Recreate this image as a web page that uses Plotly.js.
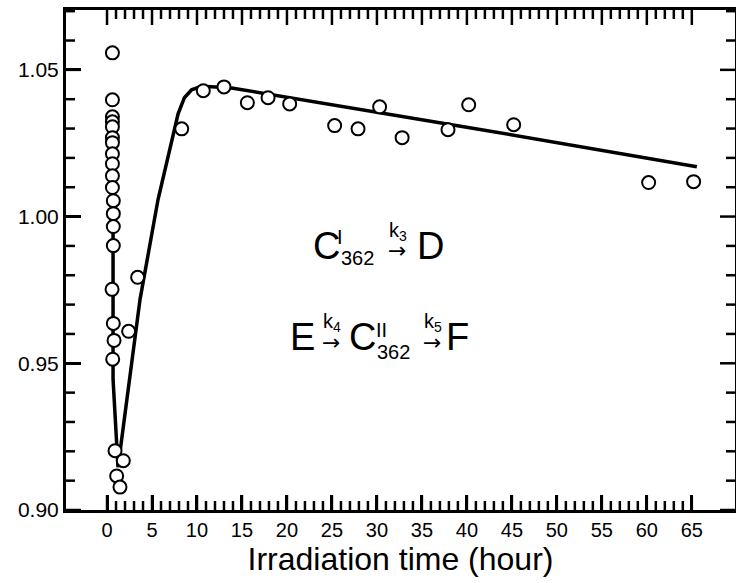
<!DOCTYPE html>
<html>
<head>
<meta charset="utf-8">
<script src="https://cdn.plot.ly/plotly-3.0.1.min.js"></script>
<style>html,body{margin:0;padding:0;background:#fff;}#chart{width:736px;height:583px;}</style>
</head>
<body>
<div id="chart"></div>
<script>
// Measured points
const time_h = [0.6,0.6,0.6,0.6,0.6,0.6,0.6,0.6,0.6,0.6,0.6,0.7,0.7,0.7,0.7,0.56,0.7,0.78,0.63,
  0.89,1.81,1.07,1.44,2.4,3.4,8.3,10.7,13.0,15.6,17.9,20.3,25.3,27.9,30.3,32.8,37.9,40.2,45.2,60.2,65.2];
const ratio = [1.0558,1.0398,1.0340,1.0323,1.0306,1.0269,1.0252,1.0214,1.0180,1.0139,1.0099,1.0054,1.0010,0.9966,0.9901,0.9752,0.9636,0.9578,0.9514,
  0.9202,0.9168,0.9116,0.9078,0.9609,0.9793,1.0299,1.0429,1.0442,1.0388,1.0405,1.0384,1.0310,1.0299,1.0374,1.0269,1.0296,1.0381,1.0313,1.0116,1.0119];
// Fitted curve
const fit_t = [0.67,0.67,1.22,2.22,3.67,5.67,7.2,7.9,8.6,9.4,10.5,13.67,40.3,65.56];
const fit_y = [1.000,0.9446,0.9146,0.9378,0.9718,1.0058,1.0260,1.0350,1.0405,1.0432,1.0444,1.0439,1.0303,1.0170];
// Ticks
const xMajor = [0,5,10,15,20,25,30,35,40,45,50,55,60,65];
const xMinor = [1,2,3,4,6,7,8,9,11,12,13,14,16,17,18,19,21,22,23,24,26,27,28,29,31,32,33,34,36,37,38,39,
  41,42,43,44,46,47,48,49,51,52,53,54,56,57,58,59,61,62,63,64];
const yMajor = [0.90,0.95,1.00,1.05];
const yLabels = ["0.90","0.95","1.00","1.05"];
const yMinor = [0.91,0.92,0.93,0.94,0.96,0.97,0.98,0.99,1.01,1.02,1.03,1.04,1.06,1.07];

var FONT = "Liberation Sans, Arial, Helvetica, sans-serif";
var XR = [-4.56, 69.8], YR = [0.9, 1.0704];
var L = 66, R = 735, T = 10, B = 510;
var PW = R - L, PH = B - T;
var KX = (XR[1] - XR[0]) / PW, KY = (YR[1] - YR[0]) / PH;
function px(x){ return (x - L) / PW; }
function py(y){ return (B - y) / PH; }
function ann(text, x, y, size, fam){
  return {text: text, xref: 'paper', yref: 'paper', x: px(x), y: py(y), xanchor: 'center', yanchor: 'middle',
          showarrow: false, font: {family: fam || FONT, size: size, color: '#000'}};
}
var ARW = "DejaVu Sans, sans-serif";

// inside tick marks on all four sides, drawn as line segments on the axes' scales
var tx = [], ty = [];
function xTicks(vals, len){
  for (var i = 0; i < vals.length; i++) {
    var v = vals[i];
    tx.push(v, v, null); ty.push(YR[0], YR[0] + len * KY, null);
    tx.push(v, v, null); ty.push(YR[1], YR[1] - len * KY, null);
  }
}
function yTicks(vals, len){
  for (var i = 0; i < vals.length; i++) {
    var v = vals[i];
    tx.push(XR[0], XR[0] + len * KX, null); ty.push(v, v, null);
    tx.push(XR[1], XR[1] - len * KX, null); ty.push(v, v, null);
  }
}
xTicks(xMajor, 15); xTicks(xMinor, 9);
yTicks(yMajor, 15); yTicks(yMinor, 9);

var traces = [
  {x: tx, y: ty, type: 'scatter', mode: 'lines', line: {color: '#000', width: 2.5}, connectgaps: false, cliponaxis: false, hoverinfo: 'skip', showlegend: false},
  {x: fit_t, y: fit_y, type: 'scatter', mode: 'lines', line: {color: '#000', width: 3.5}, hoverinfo: 'skip', showlegend: false},
  {x: time_h, y: ratio, type: 'scatter', mode: 'markers', marker: {symbol: 'circle', size: 13, color: '#fff', line: {color: '#000', width: 2}}, showlegend: false}
];

var layout = {
  width: 736, height: 583,
  margin: {l: L, r: 736 - R, t: T, b: 583 - B},
  paper_bgcolor: '#fff', plot_bgcolor: '#fff',
  showlegend: false,
  font: {family: FONT, color: '#000'},
  xaxis: {
    range: XR, showgrid: false, zeroline: false,
    showline: true, linecolor: '#000', linewidth: 3, mirror: true,
    tickmode: 'array', tickvals: xMajor, ticktext: xMajor.map(String),
    ticks: 'inside', ticklen: 15, tickwidth: 2.5, tickcolor: '#000',
    tickfont: {family: FONT, size: 20, color: '#000'},
    title: {text: 'Irradiation time (hour)', font: {family: FONT, size: 32, color: '#000'}, standoff: 0}
  },
  yaxis: {
    range: YR, showgrid: false, zeroline: false,
    showline: true, linecolor: '#000', linewidth: 3, mirror: true,
    tickmode: 'array', tickvals: yMajor, ticktext: yLabels,
    ticks: 'inside', ticklen: 15, tickwidth: 2.5, tickcolor: '#000',
    tickfont: {family: FONT, size: 21, color: '#000'}
  },
  annotations: [
    ann('C', 326, 246, 38), ann('I', 340, 237, 20), ann('362', 357, 258, 20),
    ann('k<sub>3</sub>', 398, 232, 20), ann('→', 397, 250, 22, ARW), ann('D', 430, 246, 38),
    ann('E', 302, 337, 38), ann('k<sub>4</sub>', 332, 322, 20), ann('→', 331, 343, 22, ARW),
    ann('C', 362, 337, 38), ann('II', 381, 330, 20), ann('362', 393, 352, 20),
    ann('k<sub>5</sub>', 433, 322, 20), ann('→', 432, 343, 22, ARW), ann('F', 458, 337, 38)
  ]
};

Plotly.newPlot('chart', traces, layout, {displayModeBar: false});
</script>
</body>
</html>
